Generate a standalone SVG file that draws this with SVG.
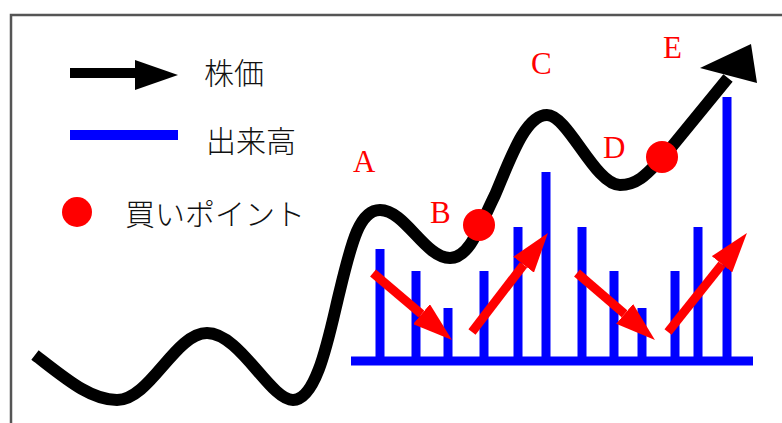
<svg xmlns="http://www.w3.org/2000/svg" width="782" height="423" viewBox="0 0 782 423">
  <style>
    .jp { font-family: "Noto Sans CJK JP", "Noto Sans", sans-serif; font-size: 30px; font-weight: 300; fill: #111; }
    .lbl { font-family: "Liberation Serif", serif; font-size: 31px; fill: #ff0000; }
    .bar { stroke: #0000ff; stroke-width: 9; }
    .red { stroke: #ff0000; stroke-width: 9; fill: none; }
    .dot { fill: #ff0000; }
  </style>
  <defs>
    <marker id="rh" viewBox="0 -13 40 26" markerWidth="40" markerHeight="26" refX="0" refY="0" orient="auto" markerUnits="userSpaceOnUse">
      <path d="M0,-13 L40,0 L0,13 Z" fill="#ff0000"/>
    </marker>
  </defs>
  <rect width="782" height="423" fill="#ffffff"/>
  <g id="frame">
    <path d="M11,424 L11,15 L783,15" fill="none" stroke="#555555" stroke-width="2.5"/>
  </g>
  <g id="legend">
    <g id="legend-price">
      <line x1="70" y1="73" x2="138" y2="73" stroke="#000" stroke-width="10"/>
      <polygon points="135,60 178,75 135,90" fill="#000"/>
      <text class="jp" x="204" y="84" font-size="31">株価</text>
    </g>
    <g id="legend-volume">
      <line x1="70" y1="135" x2="178" y2="135" stroke="#0000ff" stroke-width="10"/>
      <text class="jp" x="206" y="152" font-size="31">出来高</text>
    </g>
    <g id="legend-buy">
      <circle class="dot" cx="77" cy="212" r="15"/>
      <text class="jp" x="125" y="225">買いポイント</text>
    </g>
  </g>
  <g id="volume">
    <line class="bar" x1="351" y1="361" x2="753" y2="361" stroke-width="5"/>
    <line class="bar" x1="380" y1="249" x2="380" y2="361"/>
    <line class="bar" x1="416" y1="271" x2="416" y2="361"/>
    <line class="bar" x1="448" y1="308" x2="448" y2="361"/>
    <line class="bar" x1="484" y1="271" x2="484" y2="361"/>
    <line class="bar" x1="518" y1="227" x2="518" y2="361"/>
    <line class="bar" x1="546" y1="172" x2="546" y2="361"/>
    <line class="bar" x1="582" y1="227" x2="582" y2="361"/>
    <line class="bar" x1="614" y1="271" x2="614" y2="361"/>
    <line class="bar" x1="642" y1="308" x2="642" y2="361"/>
    <line class="bar" x1="675" y1="271" x2="675" y2="361"/>
    <line class="bar" x1="698" y1="227" x2="698" y2="361"/>
    <line class="bar" x1="727" y1="97" x2="727" y2="361"/>
  </g>
  <g id="price">
    <path d="M35,355 C65,378 90,400 117,400 C150,400 175,333 207,333 C240,333 270,400 293,400 C318,400 330,330 340,290 C352,240 360,210 380,210 C405,210 425,258 450,258 C470,258 480,225 495,195 C510,160 525,115 547,115 C568,115 595,185 620,185 C640,185 650,170 665,155 L728,78" fill="none" stroke="#000" stroke-width="12" stroke-linejoin="round"/>
    <polygon points="700,68 751,44 757,83" fill="#000"/>
  </g>
  <g id="trend-arrows">
    <line class="red" x1="373" y1="273" x2="421.5" y2="314.1" marker-end="url(#rh)"/>
    <line class="red" x1="472" y1="332" x2="523.6" y2="264.7" marker-end="url(#rh)"/>
    <line class="red" x1="577" y1="273" x2="624.6" y2="313.9" marker-end="url(#rh)"/>
    <line class="red" x1="668" y1="332" x2="722" y2="264.3" marker-end="url(#rh)"/>
  </g>
  <g id="buy-points">
    <circle id="point-B" class="dot" cx="479" cy="225" r="16"/>
    <circle id="point-D" class="dot" cx="662" cy="157" r="16"/>
  </g>
  <g id="labels">
    <text class="lbl" x="353" y="172">A</text>
    <text class="lbl" x="430" y="223">B</text>
    <text class="lbl" x="531" y="74">C</text>
    <text class="lbl" x="603" y="158">D</text>
    <text class="lbl" x="663" y="58">E</text>
  </g>
</svg>
